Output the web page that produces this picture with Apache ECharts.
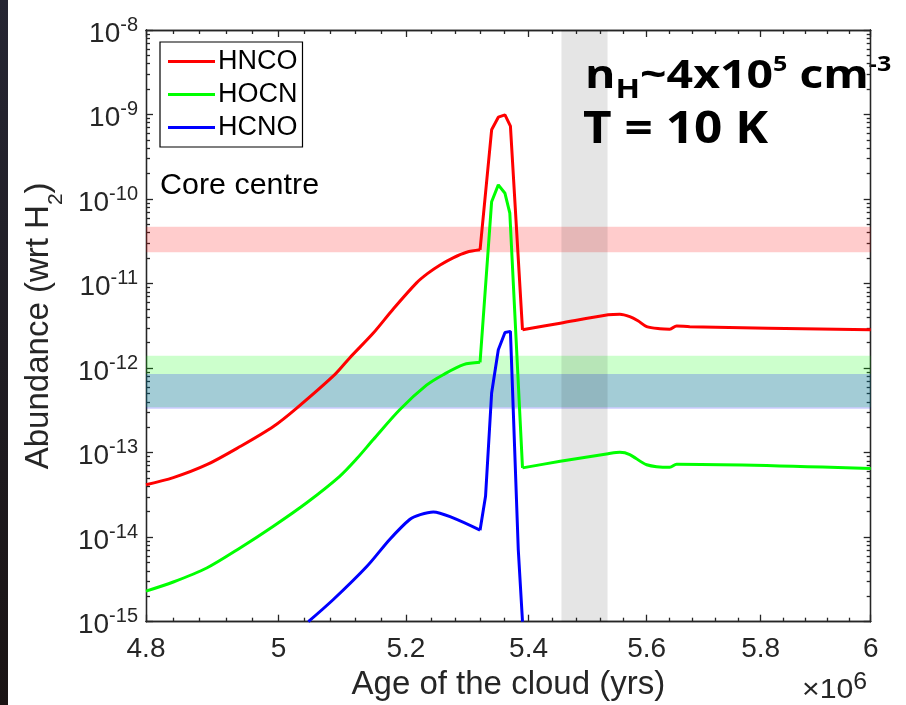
<!DOCTYPE html>
<html>
<head>
<meta charset="utf-8">
<script src="https://cdn.jsdelivr.net/npm/echarts@6/dist/echarts.min.js"></script>
<style>
  html, body { margin: 0; padding: 0; background: #fff; }
  #main { width: 906px; height: 705px; }
</style>
</head>
<body>
<div id="main"></div>
<script>
// tick labels: age in units of 10^6 yr, abundance wrt H2
var ageTicks = [4.8, 5, 5.2, 5.4, 5.6, 5.8, 6];
var abundTicks = [1e-15, 1e-14, 1e-13, 1e-12, 1e-11, 1e-10, 1e-9, 1e-8];

// model curves
var hncoAge = [4.800, 4.8405, 4.8906, 4.941, 4.992, 5.028, 5.088, 5.111, 5.148, 5.180, 5.217, 5.235, 5.255, 5.276, 5.298, 5.320,
  5.339, 5.350, 5.361, 5.370, 5.390, 5.453, 5.534, 5.554, 5.571, 5.585, 5.600, 5.623, 5.640, 5.652, 5.675, 6.000];
var hncoAbund = [4.17e-14, 5.06e-14, 7.2e-14, 1.18e-13, 2.04e-13, 3.37e-13, 8.5e-13, 1.33e-12, 2.6e-12, 5.04e-12, 1.02e-11, 1.32e-11,
  1.66e-11, 2.02e-11, 2.35e-11, 2.51e-11, 6.6e-10, 9.3e-10, 9.9e-10, 7.3e-10, 2.84e-12, 3.4e-12, 4.27e-12, 4.35e-12, 4.07e-12,
  3.63e-12, 3.1e-12, 2.92e-12, 2.89e-12, 3.16e-12, 3.08e-12, 2.84e-12];

var hocnAge = [4.800, 4.8405, 4.8906, 4.941, 4.992, 5.043, 5.095, 5.122, 5.148, 5.190, 5.233, 5.260, 5.293, 5.320,
  5.339, 5.350, 5.361, 5.369, 5.390, 5.453, 5.534, 5.554, 5.571, 5.600, 5.640, 5.652, 6.000];
var hocnAbund = [2.30e-15, 2.95e-15, 4.32e-15, 7.46e-15, 1.35e-14, 2.54e-14, 5.25e-14, 8.5e-14, 1.43e-13, 3.22e-13, 6.28e-13,
  8.36e-13, 1.10e-12, 1.17e-12, 9.3e-11, 1.47e-10, 1.17e-10, 6.8e-11, 6.6e-14, 7.9e-14, 9.7e-14, 1.01e-13, 9.5e-14, 7.2e-14,
  6.7e-14, 7.3e-14, 6.5e-14];

var hcnoAge = [5.046, 5.085, 5.138, 5.174, 5.206, 5.223, 5.244, 5.276, 5.320, 5.329, 5.339, 5.350, 5.361, 5.370, 5.383, 5.390];
var hcnoAbund = [1.0e-15, 1.83e-15, 4.53e-15, 9.4e-15, 1.62e-14, 1.85e-14, 1.99e-14, 1.69e-14, 1.21e-14, 3.04e-14, 5.08e-13,
  1.65e-12, 2.64e-12, 2.72e-12, 7.1e-15, 1.0e-15];

// observed ranges and the core stage
var hncoBand = [2.35e-11, 4.7e-11];
var hocnBand = [3.45e-13, 1.4e-12];
var hcnoBand = [3.3e-13, 8.5e-13];
var coreStage = [5.455, 5.533];

var font = 'Liberation Sans';
var axisColor = '#262626';

function pairs(xs, ys, from, to) {
  var out = [];
  for (var i = from; i <= to; i++) out.push([xs[i], ys[i]]);
  return out;
}

// minor tick positions
var minorAge = [];
for (var i = 1; i < 30; i++) {
  if (i % 5 !== 0) minorAge.push(+(4.8 + i * 0.04).toFixed(2));
}
var minorAbund = [];
for (var e = -15; e < -8; e++) {
  for (var m = 2; m <= 9; m++) minorAbund.push(m * Math.pow(10, e));
}

function ageAxis(position, ticks, len, withLabels) {
  var ax = {
    type: 'log', logBase: 10, min: 4.8, max: 6, position: position,
    axisLine: { show: true, onZero: false, lineStyle: { color: axisColor, width: 1.3 } },
    axisTick: { show: true, inside: true, length: len, customValues: ticks, lineStyle: { color: axisColor, width: 1.3 } },
    axisLabel: { show: false },
    minorTick: { show: false },
    splitLine: { show: false }
  };
  if (withLabels) {
    ax.axisLabel = {
      show: true, customValues: ageTicks, margin: 14, color: axisColor, fontFamily: font, fontSize: 28,
      formatter: function (v) { return String(+v.toFixed(1)); }
    };
    ax.name = 'Age of the cloud (yrs)';
    ax.nameLocation = 'middle';
    ax.nameGap = 47;
    ax.nameTextStyle = { fontFamily: font, fontSize: 33, color: axisColor };
  }
  return ax;
}

function abundAxis(position, ticks, len, withLabels) {
  var ax = {
    type: 'log', logBase: 10, min: 1e-15, max: 1e-8, position: position,
    axisLine: { show: true, onZero: false, lineStyle: { color: axisColor, width: 1.3 } },
    axisTick: { show: true, inside: true, length: len, customValues: ticks, lineStyle: { color: axisColor, width: 1.3 } },
    axisLabel: { show: false },
    minorTick: { show: false },
    splitLine: { show: false }
  };
  if (withLabels) {
    ax.axisLabel = {
      show: true, customValues: abundTicks, margin: 8, color: axisColor,
      formatter: function (v) { return '{b|10}{s|' + Math.round(Math.log10(v)) + '}'; },
      rich: {
        b: { fontFamily: font, fontSize: 28, lineHeight: 28, color: axisColor, verticalAlign: 'middle', padding: [8, 0, 0, 0] },
        s: { fontFamily: font, fontSize: 20, lineHeight: 20, color: axisColor, verticalAlign: 'middle', padding: [0, 0, 10, 0] }
      }
    };
    ax.name = '{a|Abundance (wrt H}{s|2}{a|)}';
    ax.nameLocation = 'middle';
    ax.nameGap = 84;
    ax.nameTextStyle = {
      rich: {
        a: { fontFamily: font, fontSize: 33, lineHeight: 33, color: axisColor, verticalAlign: 'middle' },
        s: { fontFamily: font, fontSize: 21, lineHeight: 21, color: axisColor, verticalAlign: 'middle', padding: [36, 0, 0, 0] }
      }
    };
  }
  return ax;
}

// one piece of a curve; smooth pieces for the slow parts, straight ones for the jumps
function piece(name, xs, ys, from, to, color, smooth) {
  return {
    name: name, type: 'line', data: pairs(xs, ys, from, to), symbol: 'none', z: 3,
    smooth: smooth ? 0.3 : false,
    lineStyle: { color: color, width: 3 }, itemStyle: { color: color }
  };
}

var chart = echarts.init(document.getElementById('main'), null, { renderer: 'canvas' });

var option = {
  animation: false,
  backgroundColor: '#fff',
  grid: { left: 146, top: 30, width: 724.7, height: 591.7, containLabel: false, outerBoundsMode: 'none' },
  xAxis: [
    ageAxis('bottom', ageTicks, 7, true),
    ageAxis('bottom', minorAge, 4, false),
    ageAxis('top', ageTicks, 7, false),
    ageAxis('top', minorAge, 4, false)
  ],
  yAxis: [
    abundAxis('left', abundTicks, 7, true),
    abundAxis('left', minorAbund, 4, false),
    abundAxis('right', abundTicks, 7, false),
    abundAxis('right', minorAbund, 4, false)
  ],
  legend: {
    data: ['HNCO', 'HOCN', 'HCNO'],
    orient: 'vertical', left: 160, top: 42,
    icon: 'rect', itemWidth: 47, itemHeight: 3, itemGap: 6,
    padding: [6, 5, 6, 8],
    borderColor: '#000', borderWidth: 1.2, backgroundColor: '#fff',
    textStyle: { fontFamily: font, fontSize: 27, lineHeight: 27, color: '#000', padding: [0, 0, 0, -2] }
  },
  series: [
    {
      name: 'bands', type: 'line', data: [], z: 1, silent: true,
      markArea: {
        silent: true, label: { show: false },
        data: [
          [{ yAxis: hncoBand[0], itemStyle: { color: 'rgba(255,0,0,0.2)' } }, { yAxis: hncoBand[1] }],
          [{ yAxis: hocnBand[0], itemStyle: { color: 'rgba(0,255,0,0.2)' } }, { yAxis: hocnBand[1] }],
          [{ yAxis: hcnoBand[0], itemStyle: { color: 'rgba(0,0,255,0.2)' } }, { yAxis: hcnoBand[1] }]
        ]
      }
    },
    piece('HNCO', hncoAge, hncoAbund, 0, 15, '#ff0000', true),
    piece('HNCO', hncoAge, hncoAbund, 15, 20, '#ff0000', false),
    piece('HNCO', hncoAge, hncoAbund, 20, 31, '#ff0000', true),
    piece('HOCN', hocnAge, hocnAbund, 0, 13, '#00ff00', true),
    piece('HOCN', hocnAge, hocnAbund, 13, 18, '#00ff00', false),
    piece('HOCN', hocnAge, hocnAbund, 18, 26, '#00ff00', true),
    piece('HCNO', hcnoAge, hcnoAbund, 0, 8, '#0000ff', true),
    piece('HCNO', hcnoAge, hcnoAbund, 8, 15, '#0000ff', false),
    {
      name: 'core', type: 'line', data: [], z: 4, silent: true,
      markArea: {
        silent: true, label: { show: false },
        itemStyle: { color: 'rgba(0,0,0,0.1)' },
        data: [[{ xAxis: coreStage[0] }, { xAxis: coreStage[1] }]]
      }
    }
  ],
  graphic: [
    {
      type: 'rect', left: 0, top: 0, silent: true,
      shape: { width: 8, height: 705 },
      style: {
        fill: new echarts.graphic.LinearGradient(0, 0, 0, 1, [
          { offset: 0, color: '#262633' }, { offset: 1, color: '#1a1414' }
        ])
      }
    },
    {
      type: 'text', x: 160, y: 186, scaleX: 1.05, silent: true,
      style: { text: 'Core centre', fontFamily: font, fontSize: 29, fill: '#000', verticalAlign: 'middle' }
    },
    {
      type: 'text', x: 585, y: 76.5, scaleX: 1.19, silent: true,
      style: {
        text: '{m|n}{sb|H}{m|~4x10}{sp|5}{m| cm}{sp|-3}', verticalAlign: 'middle',
        rich: {
          m: { fontFamily: 'Open Sans', fontWeight: 'bold', fontSize: 39, lineHeight: 39, fill: '#000', verticalAlign: 'middle' },
          sb: { fontFamily: 'Open Sans', fontWeight: 'bold', fontSize: 27, lineHeight: 27, fill: '#000', verticalAlign: 'middle', padding: [27, 0, 0, 0] },
          sp: { fontFamily: 'Open Sans', fontWeight: 'bold', fontSize: 21, lineHeight: 21, fill: '#000', verticalAlign: 'middle', padding: [0, 0, 23, 0] }
        }
      }
    },
    {
      type: 'text', x: 583, y: 130, scaleX: 1.1, silent: true,
      style: { text: 'T = 10 K', fontFamily: 'Open Sans', fontWeight: 'bold', fontSize: 45, fill: '#000', verticalAlign: 'middle' }
    },
    {
      type: 'text', x: 802, y: 690, scaleX: 1.08, silent: true,
      style: {
        text: '{m|\u00d710}{sp|6}', verticalAlign: 'middle',
        rich: {
          m: { fontFamily: font, fontSize: 28, lineHeight: 28, fill: axisColor, verticalAlign: 'middle' },
          sp: { fontFamily: font, fontSize: 23, lineHeight: 23, fill: axisColor, verticalAlign: 'middle', padding: [0, 0, 14, 0] }
        }
      }
    }
  ]
};

chart.setOption(option);
</script>
</body>
</html>
